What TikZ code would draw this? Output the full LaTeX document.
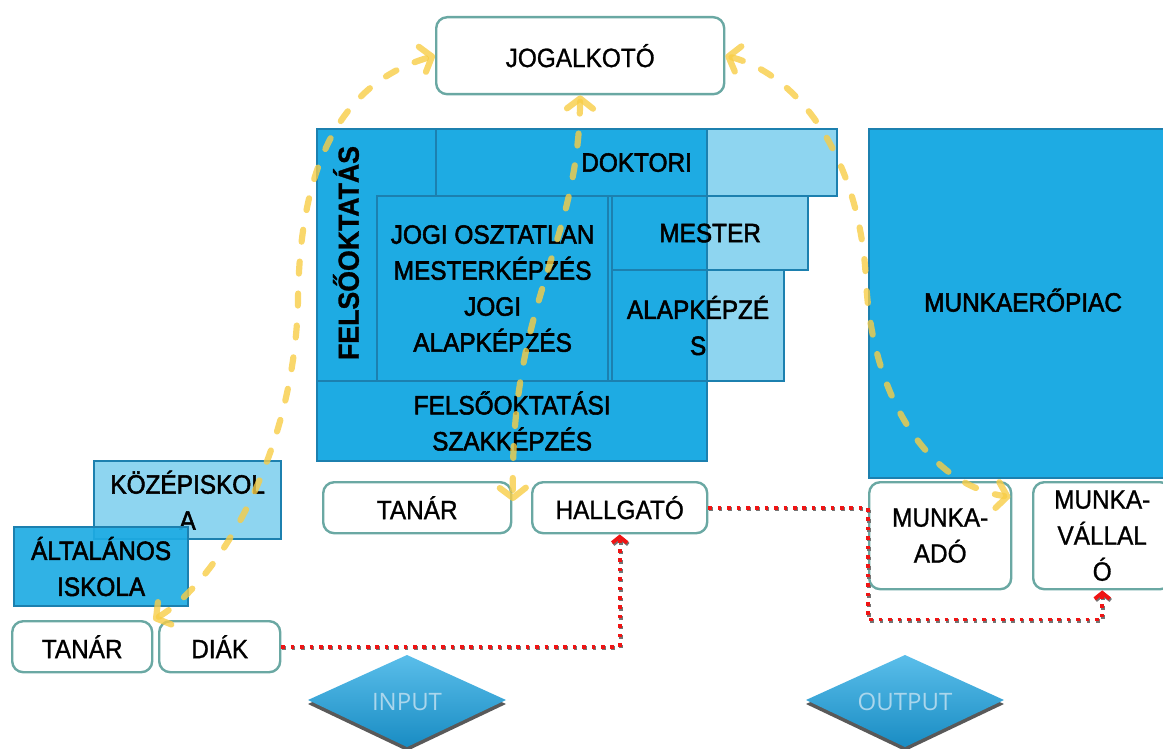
\documentclass[tikz,border=0pt]{standalone}
\usepackage{fontspec}
\setmainfont{Liberation Sans}[FakeStretch=0.92, FakeBold=1]
\newfontfamily\tierfont{Liberation Sans}[FakeStretch=0.92, FakeBold=2]
\newfontfamily\diamondfont{Open Sans}
\usetikzlibrary{arrows.meta,calc}
\definecolor{boxblue}{RGB}{30,171,227}
\definecolor{paleblue}{RGB}{142,213,240}
\definecolor{edgeblue}{RGB}{28,128,175}
\definecolor{tealedge}{RGB}{106,168,163}
\definecolor{flowyellow}{RGB}{248,205,70}
\definecolor{linkred}{RGB}{240,20,20}
\definecolor{diamtop}{RGB}{90,190,234}
\definecolor{diambot}{RGB}{25,140,195}
\definecolor{diamtext}{RGB}{170,214,236}
\begin{document}
\begin{tikzpicture}[x=1pt,y=-1pt,
  sized/.style 2 args={minimum width=#1pt, minimum height=#2pt, inner sep=0pt, anchor=north west},
  lbl/.style={font=\fontsize{26.5}{36}\selectfont, align=center},
  tier/.style={draw=edgeblue, line width=2.2pt, lbl, font=\tierfont\fontsize{26.5}{36}\selectfont},
  whitebox/.style={draw=tealedge, line width=2.4pt, fill=white, rounded corners=11pt, lbl},
  flow/.style={draw=flowyellow, draw opacity=0.8, line width=6.2pt, line cap=round,
    dash pattern=on 12pt off 20pt,
    arrows={Straight Barb[length=10pt,width=26pt,round]-Straight Barb[length=10pt,width=26pt,round]}},
  link/.style={draw=linkred, line width=3.8pt, dash pattern=on 3.6pt off 5.8pt,
    preaction={draw=black!55, line width=3.8pt, dash pattern=on 3.6pt off 5.8pt,
      transform canvas={xshift=1pt,yshift=-1.6pt}},
    arrows={-Straight Barb[length=6pt,width=15pt]}},
  diam/.style={font=\diamondfont\fontsize{24}{28}\selectfont, text=diamtext}
]
\useasboundingbox (0,0) rectangle (1163,749);

% pale parts of the degree tiers that stick out of the block
\fill[paleblue] (435,128) rectangle (836,195);
\fill[paleblue] (611,195) rectangle (807,269);
\fill[paleblue] (611,269) rectangle (783,380);
% higher-education block
\fill[boxblue] (316,128) rectangle (706,460);

\node[tier, sized={390}{332}] (felso) at (316,128) {};
\node[tier, sized={401}{67}] (doktori) at (435,128) {DOKTORI};
\node[tier, sized={196}{74}] (mester) at (611,195) {MESTER};
\node[tier, sized={172}{111}] (alap) at (611,269) {ALAPKÉPZÉ\\S};
\node[tier, sized={231}{185}] (jogi) at (376,195) {JOGI OSZTATLAN\\MESTERKÉPZÉS\\JOGI\\ALAPKÉPZÉS};
\node[tier, sized={390}{80}] (szak) at (316,380) {FELSŐOKTATÁSI\\SZAKKÉPZÉS};
\node[font=\fontsize{29}{30}\selectfont\bfseries, rotate=90] (felsolabel) at (346,253) {FELSŐOKTATÁS};

% labour market
\node[tier, fill=boxblue, sized={308}{349}] (piac) at (868,128) {\raisebox{7pt}{MUNKAERŐPIAC}};

% school levels
\node[tier, fill=paleblue, sized={187}{78}] (kozep) at (93,460) {KÖZÉPISKOL\\A};
\node[tier, fill=boxblue, fill opacity=0.92, text opacity=1, sized={174}{79}] (altal) at (13,526) {ÁLTALÁNOS\\ISKOLA};

% actors
\node[whitebox, sized={288}{77}] (jog) at (435,16) {JOGALKOTÓ};
\node[whitebox, sized={188}{51}] (tanar) at (322,481) {TANÁR};
\node[whitebox, sized={175}{51}] (hallgato) at (531,481) {HALLGATÓ};
\node[whitebox, sized={142}{107}] (munkaado) at (868,481) {MUNKA-\\ADÓ};
\node[whitebox, sized={138}{107}] (munkavallalo) at (1032,481) {MUNKA-\\VÁLLAL\\Ó};
\node[whitebox, sized={140}{51}] (tanar2) at (11,620) {TANÁR};
\node[whitebox, sized={121}{51}] (diak) at (158,620) {DIÁK};

% input / output diamonds
\fill[black!65] (308,704) -- (407,659) -- (506,704) -- (407,751) -- cycle;
\shade[top color=diamtop, bottom color=diambot] (308,700) -- (407,655) -- (506,700) -- (407,747) -- cycle;
\node[diam] (input) at (407,702) {INPUT};
\fill[black!65] (806,704) -- (905,659) -- (1004,704) -- (905,751) -- cycle;
\shade[top color=diamtop, bottom color=diambot] (806,700) -- (905,655) -- (1004,700) -- (905,747) -- cycle;
\node[diam] (output) at (905,702) {OUTPUT};

% feedback loops to the lawmaker
\coordinate (leftbend) at (298,300);
\coordinate (rightbend) at (866,280);
\coordinate (gap) at (513,501);
\coordinate (adoin) at ($(munkaado.north east)+(-2,16)$);
\draw[flow] (tanar2.north east) .. controls (220,580) and (295,450) .. (leftbend)
  .. controls (300,150) and (350,80) .. (jog.west);
\draw[flow] (jog.south) .. controls (578,250) and (510,300) .. (gap);
\draw[flow] (jog.east) .. controls (800,75) and (860,160) .. (rightbend)
  .. controls (872,400) and (930,485) .. (adoin);

% student path
\draw[link] (diak.east) -| (hallgato.south);
\draw[link] (hallgato.east) -- (munkaado.west |- hallgato.east)
  |- ($(munkavallalo.south)+(0,29)$) -- (munkavallalo.south);
\end{tikzpicture}
\end{document}
